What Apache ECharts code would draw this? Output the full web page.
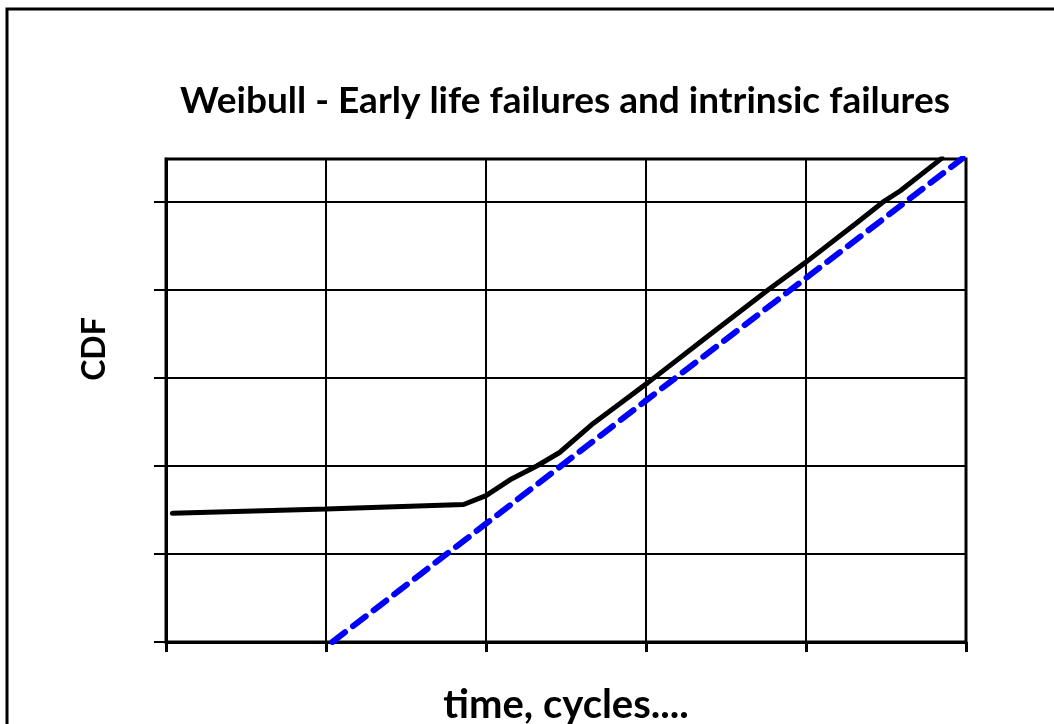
<!DOCTYPE html>
<html>
<head>
<meta charset="utf-8">
<script src="https://cdn.jsdelivr.net/npm/echarts@6/dist/echarts.min.js"></script>
<style>
  html, body { margin: 0; padding: 0; background: #fff; }
  #chart { width: 1054px; height: 724px; }
</style>
</head>
<body>
<div id="chart"></div>
<script>
// curve (x in divisions, y in divisions)
const combinedX = [0.04, 1.0, 1.86, 2.0, 2.15, 2.32, 2.46, 2.67, 2.84, 3.01, 3.38, 3.76, 4.0, 4.32, 4.48, 4.59, 4.85];
const combinedY = [1.46, 1.51, 1.56, 1.66, 1.84, 2.0, 2.15, 2.48, 2.71, 2.94, 3.46, 3.99, 4.31, 4.76, 4.99, 5.12, 5.49];
const intrinsicX = [1.04, 3.0, 4.98];
const intrinsicY = [0.0, 2.74, 5.49];

const xTicks = [0, 1, 2, 3, 4, 5];
const yTicks = [0, 1, 2, 3, 4, 5];
const yMax = 5.48;

const font = "Lato, 'Open Sans', sans-serif";

let myChart = echarts.init(document.getElementById("chart"));
let option = {
  animation: false,
  backgroundColor: "#fff",
  title: {
    text: "Weibull - Early life failures and intrinsic failures",
    left: 560,
    textAlign: "center",
    top: 78,
    textStyle: { fontFamily: font, fontWeight: "bold", fontSize: 37, color: "#000" },
  },
  graphic: [
    {
      type: "rect",
      shape: { x: 7, y: 9, width: 1200, height: 900 },
      style: { fill: "none", stroke: "#000", lineWidth: 3 },
      silent: true,
    },
    {
      type: "text",
      x: 95,
      y: 349,
      rotation: Math.PI / 2,
      style: {
        text: "CDF",
        fontFamily: font,
        fontWeight: "bold",
        fontSize: 32,
        fill: "#000",
        align: "center",
        verticalAlign: "middle",
      },
      silent: true,
    },
  ],
  grid: {
    left: 166,
    top: 159,
    width: 800,
    height: 483,
    outerBoundsMode: "none",
    containLabel: false,
    show: true,
    borderColor: "#000",
    borderWidth: 3,
  },
  xAxis: {
    type: "value",
    min: xTicks[0],
    max: xTicks[xTicks.length - 1],
    interval: 1,
    name: "time, cycles....",
    nameLocation: "middle",
    nameGap: 43,
    nameTextStyle: { fontFamily: font, fontWeight: "bold", fontSize: 40, color: "#000" },
    axisLine: { lineStyle: { color: "#000", width: 3 } },
    axisTick: { show: true, inside: false, length: 10, lineStyle: { color: "#000", width: 3 } },
    axisLabel: { show: false },
    splitLine: { show: true, lineStyle: { color: "#000", width: 2 } },
  },
  yAxis: {
    type: "value",
    min: 0,
    max: yMax,
    interval: 1,
    axisLine: { lineStyle: { color: "#000", width: 3 } },
    axisTick: {
      show: true,
      inside: false,
      length: 12,
      customValues: yTicks,
      lineStyle: { color: "#000", width: 2 },
    },
    axisLabel: { show: false },
    splitLine: { show: true, lineStyle: { color: "#000", width: 2 } },
  },
  series: [
    {
      name: "intrinsic",
      type: "line",
      data: intrinsicX.map((x, i) => [x, intrinsicY[i]]),
      showSymbol: false,
      lineStyle: { color: "#0000ff", width: 6, type: [16, 10], cap: "round" },
      z: 3,
    },
    {
      name: "combined",
      type: "line",
      data: combinedX.map((x, i) => [x, combinedY[i]]),
      showSymbol: false,
      lineStyle: { color: "#000", width: 5, cap: "round" },
      z: 4,
    },
  ],
};
myChart.setOption(option);
</script>
</body>
</html>
